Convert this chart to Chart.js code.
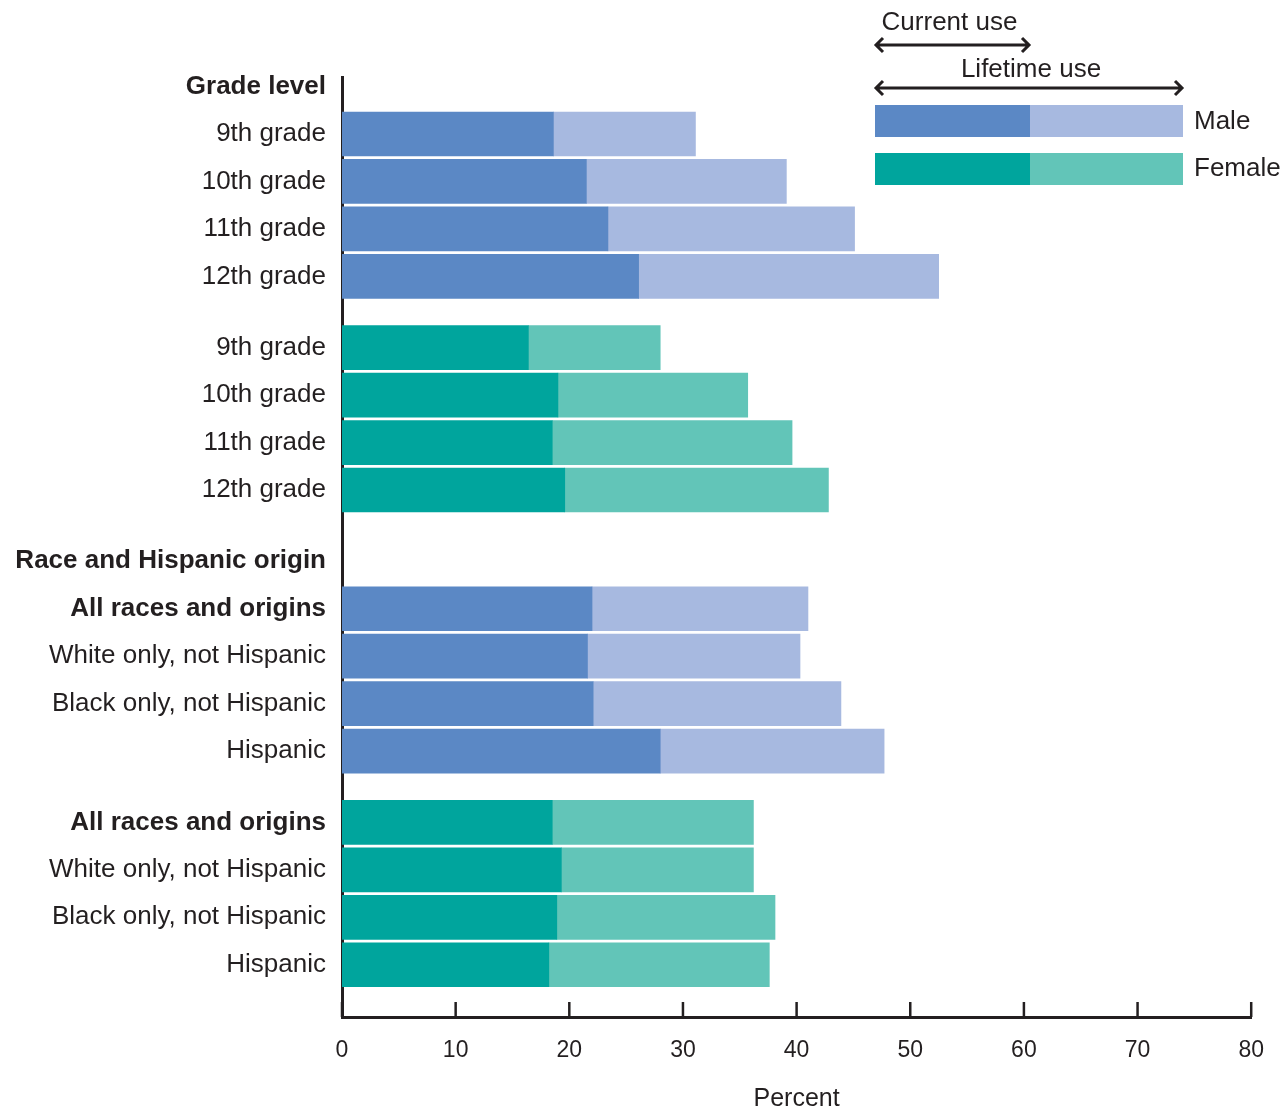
<!DOCTYPE html>
<html>
<head>
<meta charset="utf-8">
<script src="https://cdn.jsdelivr.net/npm/chart.js@4.4.1/dist/chart.umd.min.js"></script>
<style>
  html, body { margin: 0; padding: 0; background: #fff; }
  #wrap { width: 1284px; height: 1107px; }
</style>
</head>
<body>
<div id="wrap"><canvas id="myChart"></canvas></div>
<script>
// Cigarette use among students, current vs lifetime, by sex

const gradeLabels = ["9th grade", "10th grade", "11th grade", "12th grade"];
const raceLabels = ["All races and origins", "White only, not Hispanic", "Black only, not Hispanic", "Hispanic"];

const maleGradeCurrent = [18.6, 21.5, 23.4, 26.1];
const maleGradeLifetime = [31.1, 39.1, 45.1, 52.5];
const femaleGradeCurrent = [16.4, 19.0, 18.5, 19.6];
const femaleGradeLifetime = [28.0, 35.7, 39.6, 42.8];

const maleRaceCurrent = [22.0, 21.6, 22.1, 28.0];
const maleRaceLifetime = [41.0, 40.3, 43.9, 47.7];
const femaleRaceCurrent = [18.5, 19.3, 18.9, 18.2];
const femaleRaceLifetime = [36.2, 36.2, 38.1, 37.6];

const xTicks = [0, 10, 20, 30, 40, 50, 60, 70, 80];

const INK = "#231f20";
const FONT = "Helvetica, Arial, 'Liberation Sans', sans-serif";
const colors = {
  maleCurrent: "#5b88c5",
  maleLifetime: "#a7b9e0",
  femaleCurrent: "#00a59d",
  femaleLifetime: "#62c5b8",
};

// build the row list: headers, male block, female block (half-row gap before each female block / section)
const rows = [];
let pos = 0;
function addHeader(text) {
  rows.push({ pos: pos, label: text, bold: true });
  pos += 1;
}
function addBlock(labels, sex, current, lifetime, extraGap) {
  pos += extraGap;
  labels.forEach((lab, i) => {
    rows.push({ pos: pos, label: lab, bold: lab === "All races and origins", sex: sex, current: current[i], lifetime: lifetime[i] });
    pos += 1;
  });
}
addHeader("Grade level");
addBlock(gradeLabels, "male", maleGradeCurrent, maleGradeLifetime, 0);
addBlock(gradeLabels, "female", femaleGradeCurrent, femaleGradeLifetime, 0.5);
pos += 0.5;
addHeader("Race and Hispanic origin");
addBlock(raceLabels, "male", maleRaceCurrent, maleRaceLifetime, 0);
addBlock(raceLabels, "female", femaleRaceCurrent, femaleRaceLifetime, 0.5);

const barRows = rows.filter(r => r.sex);

function makeSet(sex, kind) {
  const data = barRows.filter(r => r.sex === sex).map(r => ({
    y: r.pos,
    x: kind === "current" ? [0, r.current] : [r.current, r.lifetime],
  }));
  return {
    label: sex + " " + kind,
    data: data,
    backgroundColor: colors[sex + (kind === "current" ? "Current" : "Lifetime")],
    borderWidth: 0,
    barThickness: 44,
    grouped: false,
  };
}

// inward tick marks on x axis + legend box
const extras = {
  id: "extras",
  afterDraw(chart) {
    const ctx = chart.ctx;
    const xs = chart.scales.x;
    const area = chart.chartArea;
    ctx.save();
    ctx.strokeStyle = INK;
    ctx.lineWidth = 2.5;
    xs.ticks.forEach(t => {
      const px = xs.getPixelForValue(t.value);
      ctx.beginPath();
      ctx.moveTo(px, area.bottom);
      ctx.lineTo(px, area.bottom - 15);
      ctx.stroke();
    });

    // legend
    const lx = 875, mid = 1030, rx = 1183;
    ctx.fillStyle = colors.maleCurrent; ctx.fillRect(lx, 105, mid - lx, 32);
    ctx.fillStyle = colors.maleLifetime; ctx.fillRect(mid, 105, rx - mid, 32);
    ctx.fillStyle = colors.femaleCurrent; ctx.fillRect(lx, 153, mid - lx, 32);
    ctx.fillStyle = colors.femaleLifetime; ctx.fillRect(mid, 153, rx - mid, 32);

    ctx.fillStyle = INK;
    ctx.font = "26px " + FONT;
    ctx.textBaseline = "middle";
    ctx.textAlign = "left";
    ctx.fillText("Male", 1194, 122);
    ctx.fillText("Female", 1194, 169);

    ctx.textAlign = "center";
    ctx.fillText("Current use", (lx + mid) / 2 - 3, 23);
    ctx.fillText("Lifetime use", (lx + rx) / 2 + 2, 70);

    function arrow(x1, x2, y) {
      ctx.lineWidth = 3;
      ctx.beginPath();
      ctx.moveTo(x1 + 1, y); ctx.lineTo(x2 - 1, y);
      ctx.moveTo(x1 + 8, y - 7); ctx.lineTo(x1 + 1, y); ctx.lineTo(x1 + 8, y + 7);
      ctx.moveTo(x2 - 8, y - 7); ctx.lineTo(x2 - 1, y); ctx.lineTo(x2 - 8, y + 7);
      ctx.stroke();
    }
    arrow(lx, mid, 45);
    arrow(lx, rx, 88);
    ctx.restore();
  },
};

new Chart(document.getElementById("myChart"), {
  type: "bar",
  data: {
    datasets: [
      makeSet("male", "current"),
      makeSet("male", "lifetime"),
      makeSet("female", "current"),
      makeSet("female", "lifetime"),
    ],
  },
  options: {
    indexAxis: "y",
    responsive: true,
    maintainAspectRatio: false,
    animation: false,
    layout: { padding: { top: 77, right: 21, left: 0, bottom: 0 } },
    plugins: {
      legend: { display: false },
      tooltip: { enabled: false },
    },
    scales: {
      x: {
        type: "linear",
        min: 0,
        max: 80,
        afterBuildTicks: (scale) => { scale.ticks = xTicks.map(v => ({ value: v })); },
        afterFit: (scale) => { scale.height = 90; },
        grid: { display: false, drawTicks: false },
        border: { color: INK, width: 3 },
        ticks: { color: INK, font: { family: FONT, size: 23 }, padding: 20 },
        title: {
          display: true,
          text: "Percent",
          color: INK,
          font: { family: FONT, size: 25, lineHeight: 1 },
          padding: { top: 0, bottom: -5 },
        },
      },
      y: {
        type: "linear",
        reverse: true,
        offset: false,
        min: -0.2,
        max: 19.6,
        afterBuildTicks: (scale) => { scale.ticks = rows.map(r => ({ value: r.pos })); },
        afterFit: (scale) => { scale.width = 342; },
        grid: { display: false, drawTicks: false, offset: false },
        border: { color: INK, width: 3 },
        ticks: {
          autoSkip: false,
          padding: 16,
          color: INK,
          callback: (value, index) => rows[index].label,
          font: (c) => ({
            family: FONT,
            size: 26,
            weight: c.tick && rows.find(r => r.pos === c.tick.value)?.bold ? "bold" : "normal",
          }),
        },
      },
    },
  },
  plugins: [extras],
});
</script>
</body>
</html>
